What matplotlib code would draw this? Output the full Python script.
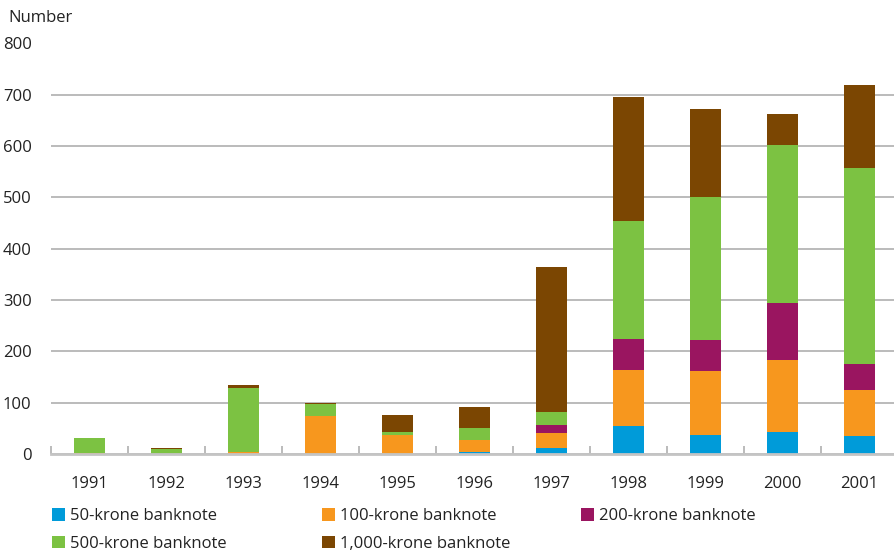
import numpy as np
import matplotlib.pyplot as plt
from matplotlib.patches import Patch

plt.rcParams['font.family'] = ['Open Sans', 'DejaVu Sans']

years = ['1991', '1992', '1993', '1994', '1995', '1996', '1997', '1998', '1999', '2000', '2001']
kr50 = [0, 0, 0, 0, 0, 4, 11, 55, 37, 43, 35]
kr100 = [2, 0, 4, 74, 37, 23, 30, 109, 125, 140, 90]
kr200 = [0, 0, 0, 0, 0, 0, 16, 60, 60, 111, 51]
kr500 = [29, 10, 125, 23, 6, 24, 25, 231, 278, 309, 381]
kr1000 = [0, 2, 6, 3, 33, 41, 282, 240, 173, 59, 162]

series = [kr50, kr100, kr200, kr500, kr1000]
labels = ['50-krone banknote', '100-krone banknote', '200-krone banknote',
          '500-krone banknote', '1,000-krone banknote']
colors = ['#009bd9', '#f7971e', '#9a1560', '#7cc242', '#7b4602']

fig = plt.figure(figsize=(8.95, 5.51), dpi=100)
ax = fig.add_axes([51 / 895, 1 - 454 / 551, 1 - 51 / 895, (454 - 43.5) / 551])

x = np.arange(len(years))
bottom = np.zeros(len(years))
for vals, c in zip(series, colors):
    ax.bar(x, vals, width=0.4, bottom=bottom, color=c, zorder=3)
    bottom += np.array(vals)

ax.set_ylim(0, 800)
ax.set_xlim(-0.5, 10.46)
ax.set_yticks(range(0, 801, 100))
ax.yaxis.grid(True, color='#b5b5b5', linewidth=1.3, zorder=0)
ax.tick_params(axis='y', length=0, pad=14, labelsize=12, labelcolor='#222222')

# category labels at bar centers, tick marks at boundaries
ax.set_xticks(x)
ax.set_xticklabels(years)
ax.tick_params(axis='x', which='major', length=0, pad=16, labelsize=12, labelcolor='#222222')
ax.set_xticks(np.arange(-0.5, 10.5, 1), minor=True)
ax.tick_params(axis='x', which='minor', direction='in', length=6, width=1.3, color='#b5b5b5')

for s in ['top', 'right', 'left']:
    ax.spines[s].set_visible(False)
ax.spines['bottom'].set_color('#c4c4c4')
ax.spines['bottom'].set_linewidth(2)
ax.spines['bottom'].set_zorder(4)

fig.text(8 / 895, 1 - 18 / 551, 'Number', fontsize=12, color='#222222', va='center', ha='left')

# legend laid out in rows, three columns
handles = [Patch(facecolor=c, edgecolor='none') for c in colors]
cols = [([0, 3], 44), ([1, 4], 314), ([2], 573)]
for idx, xpos in cols:
    fig.legend([handles[i] for i in idx], [labels[i] for i in idx],
               loc='upper left', bbox_to_anchor=(xpos / 895, 1 - 500 / 551),
               frameon=False, fontsize=12, handlelength=0.75, handleheight=0.75,
               handletextpad=0.3, labelspacing=0.7, borderpad=0, labelcolor='#222222')

fig.savefig('out.png', dpi=100)
